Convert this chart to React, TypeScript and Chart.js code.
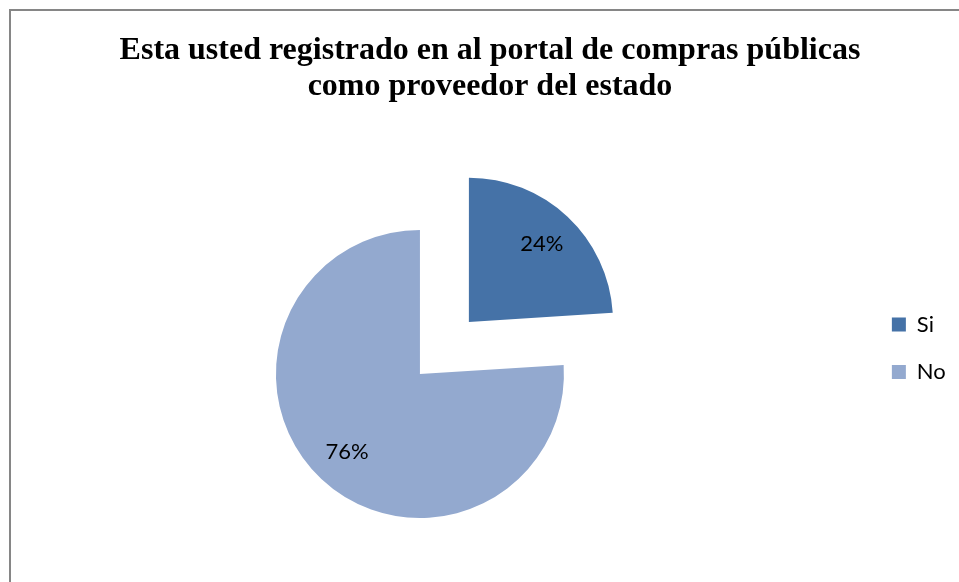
import React, { useEffect, useRef } from 'react';
import { Chart, registerables } from 'chart.js';

Chart.register(...registerables);

const TITLE_LINES = ['Esta usted registrado en al portal de compras públicas', 'como proveedor del estado'];
const CATEGORIES = ['Si', 'No'];
const VALUES = [24, 76];
const COLORS = ['#4572A7', '#93A9CF'];

const CANVAS_W = 1047;
const CANVAS_H = 640;

const sliceLabels = {
  id: 'sliceLabels',
  afterDatasetsDraw(chart: any) {
    const ctx = chart.ctx;
    const meta = chart.getDatasetMeta(0);
    const total = VALUES.reduce((a, b) => a + b, 0);
    ctx.save();
    ctx.font = '22px Lato';
    ctx.fillStyle = '#000';
    ctx.textAlign = 'center';
    ctx.textBaseline = 'middle';
    meta.data.forEach((arc: any, i: number) => {
      const p = arc.getProps(['x', 'y', 'startAngle', 'endAngle', 'outerRadius'], true);
      const mid = (p.startAngle + p.endAngle) / 2;
      const off = (arc.options.offset || 0) / 4;
      const d = off + p.outerRadius * 0.74;
      const txt = Math.round((VALUES[i] / total) * 100) + '%';
      ctx.fillText(txt, p.x + Math.cos(mid) * d, p.y + Math.sin(mid) * d);
    });
    ctx.restore();
  },
};

export default function App() {
  const ref = useRef<HTMLCanvasElement | null>(null);

  useEffect(() => {
    if (!ref.current) return;
    const chart = new Chart(ref.current, {
      type: 'pie',
      data: {
        labels: CATEGORIES,
        datasets: [
          {
            data: VALUES,
            backgroundColor: COLORS,
            borderWidth: 0,
            offset: [286, 0],
            hoverOffset: 0,
            radius: 144,
            clip: false,
          } as any,
        ],
      },
      options: {
        responsive: false,
        animation: false,
        events: [],
        layout: { padding: { left: 13.5, right: 0.5, top: 0, bottom: 7.5 } },
        plugins: {
          title: {
            display: true,
            text: TITLE_LINES,
            color: '#000',
            font: { family: 'Liberation Serif', size: 32, weight: 'bold', lineHeight: 36 / 32 },
            padding: { top: 21.5, bottom: 0 },
          },
          subtitle: {
            display: true,
            position: 'right',
            text: '',
            font: { size: 10, lineHeight: 1 },
            padding: { top: 0, bottom: 40.7 },
          },
          legend: {
            position: 'right',
            align: 'center',
            labels: {
              boxWidth: 14,
              boxHeight: 14,
              padding: 25.5,
              color: '#000',
              font: { family: 'Lato', size: 22 },
            },
            title: {
              display: true,
              text: '',
              font: { size: 10, lineHeight: 1 },
              padding: { top: 32, bottom: 0 },
            },
          },
          tooltip: { enabled: false },
        },
      } as any,
      plugins: [sliceLabels],
    });
    return () => chart.destroy();
  }, []);

  return (
    <div style={{ position: 'fixed', left: 0, top: 0, width: 959, height: 582, overflow: 'hidden', background: '#fff' }}>
      <div
        style={{
          position: 'absolute',
          left: 9,
          top: 9,
          width: 2000,
          height: 2000,
          borderLeft: '2px solid #868686',
          borderTop: '2px solid #868686',
        }}
      />
      <canvas
        ref={ref}
        width={CANVAS_W}
        height={CANVAS_H}
        style={{ position: 'absolute', left: -40, top: 11, width: CANVAS_W, height: CANVAS_H }}
      />
    </div>
  );
}
